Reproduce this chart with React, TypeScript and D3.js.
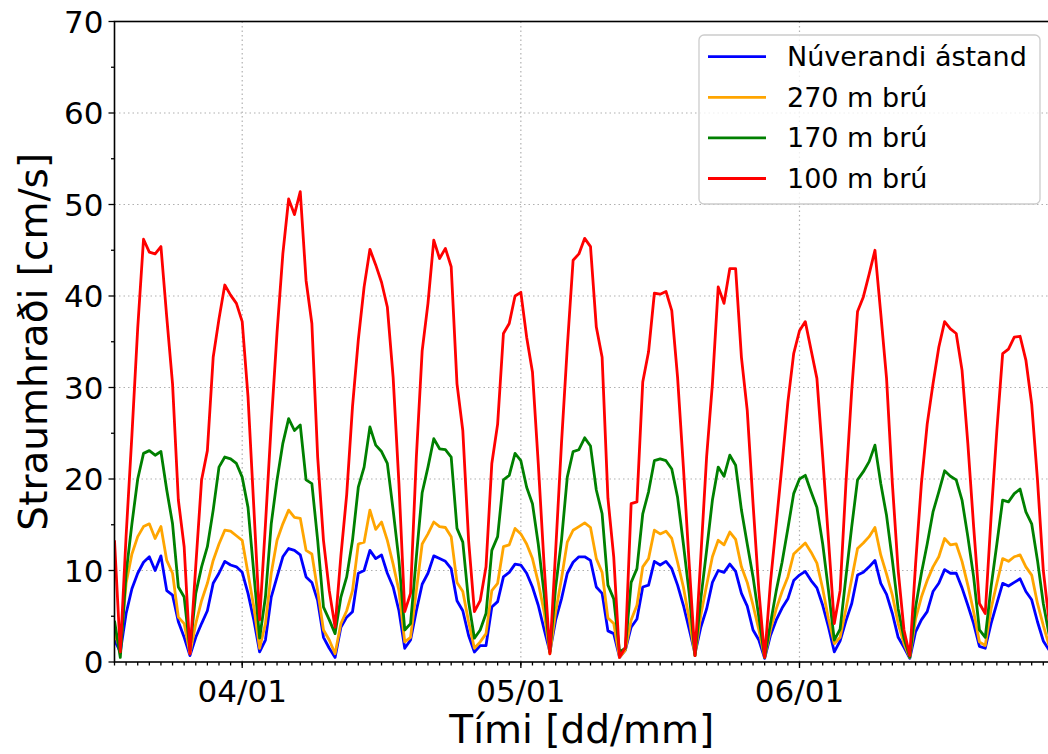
import React from "react";
import * as d3 from "d3";

// Sample times: half-hourly from 03/01 13:00
const START = new Date(2019, 0, 3, 13, 0);
const STEP_MIN = 30;
const END = new Date(2019, 0, 6, 21, 30);

const seriesNames = ["Núverandi ástand", "270 m brú", "170 m brú", "100 m brú"];
const seriesColors = ["#0000ff", "#ffa500", "#008000", "#ff0000"];

const blue = [
  2.4, 1.1, 5.3, 8.0, 9.7, 10.9, 11.5, 10.0, 11.6, 7.8, 7.3, 4.4, 2.7,
  0.7, 2.7, 4.2, 5.6, 8.6, 9.7, 11.0, 10.6, 10.4, 9.8, 7.5, 4.6, 1.1,
  2.4, 7.1, 9.3, 11.5, 12.4, 12.2, 11.7, 9.3, 8.7, 6.7, 2.7, 1.5, 0.5,
  3.8, 4.9, 5.5, 9.7, 10.0, 12.2, 11.3, 11.7, 9.7, 8.2, 5.6, 1.5, 2.4,
  5.6, 8.5, 9.7, 11.6, 11.3, 11.0, 10.2, 6.7, 5.6, 2.9, 1.1, 1.8, 1.8,
  6.0, 6.6, 9.3, 9.8, 10.7, 10.6, 9.7, 8.2, 6.2, 3.6, 1.1, 4.6, 6.9,
  9.7, 10.9, 11.5, 11.5, 11.1, 8.2, 7.5, 3.4, 3.1, 0.5, 1.3, 3.8, 4.7,
  8.2, 8.4, 11.0, 10.6, 11.0, 10.2, 8.4, 6.2, 3.6, 0.9, 3.8, 5.8, 8.7,
  10.0, 9.8, 10.7, 9.9, 7.5, 6.1, 3.5, 2.4, 0.4, 2.9, 4.6, 5.9, 6.9,
  8.9, 9.5, 9.9, 8.9, 8.1, 6.2, 3.8, 1.1, 2.3, 4.5, 6.4, 9.5, 9.8,
  10.4, 11.1, 8.6, 7.4, 5.3, 2.7, 1.6, 0.4, 3.3, 4.6, 5.5, 7.7, 8.6,
  10.1, 9.7, 9.7, 8.1, 6.2, 4.2, 1.7, 1.5, 4.2, 6.4, 8.6, 8.3, 8.7,
  9.1, 7.7, 6.8, 4.4, 2.3, 1.3,
];

const orange = [
  3.2, 1.3, 8.6, 11.8, 13.7, 14.8, 15.1, 13.5, 14.8, 11.1, 9.7, 4.9, 4.2,
  0.9, 4.2, 6.7, 8.6, 11.1, 12.9, 14.4, 14.3, 13.8, 13.3, 9.7, 6.0, 1.5,
  4.2, 9.7, 13.3, 15.1, 16.6, 15.8, 15.7, 12.2, 11.8, 7.8, 3.5, 2.4, 0.9,
  4.2, 5.6, 7.8, 12.9, 13.1, 16.6, 14.5, 15.3, 13.3, 10.7, 7.8, 2.2, 2.7,
  7.8, 12.9, 14.0, 15.3, 14.8, 14.7, 13.7, 8.7, 7.7, 4.4, 1.5, 2.2, 3.1,
  7.8, 8.6, 12.6, 12.8, 14.6, 14.0, 12.9, 11.3, 8.7, 5.5, 0.9, 5.5, 9.1,
  13.1, 14.4, 14.8, 15.2, 14.7, 11.3, 9.8, 4.8, 4.2, 0.5, 1.3, 4.6, 6.2,
  10.4, 11.3, 14.4, 14.0, 14.3, 13.5, 10.9, 8.2, 4.7, 0.7, 5.1, 8.4, 11.5,
  13.3, 12.8, 14.2, 13.4, 10.4, 8.7, 6.2, 3.5, 0.5, 3.5, 5.8, 7.7, 9.3,
  11.8, 12.4, 13.0, 12.0, 10.8, 8.0, 4.7, 2.0, 2.7, 5.8, 9.1, 12.4, 13.0,
  13.7, 14.7, 11.7, 9.6, 7.3, 4.2, 2.0, 0.5, 4.7, 7.1, 8.9, 10.4, 11.5,
  13.5, 12.8, 12.9, 11.0, 8.4, 5.5, 2.2, 1.8, 5.8, 8.6, 11.3, 11.0, 11.5,
  11.7, 10.4, 9.5, 6.4, 4.0, 1.8,
];

const green = [
  4.5, 0.5, 9.7, 15.1, 20.0, 22.8, 23.1, 22.6, 23.0, 18.8, 15.1, 8.2, 7.1,
  1.3, 7.5, 10.4, 12.6, 16.6, 21.3, 22.4, 22.2, 21.7, 20.2, 16.9, 9.7, 2.6,
  7.1, 15.1, 19.9, 23.9, 26.6, 25.3, 25.9, 19.9, 19.5, 13.3, 6.0, 4.6, 3.1,
  7.1, 9.3, 13.3, 19.1, 21.3, 25.7, 23.7, 23.0, 21.7, 16.6, 11.1, 3.5, 4.2,
  11.5, 18.5, 21.3, 24.4, 23.3, 23.2, 22.4, 14.6, 13.1, 6.6, 2.6, 3.5, 5.3,
  12.2, 13.7, 19.9, 20.4, 22.8, 22.0, 19.1, 17.3, 12.9, 7.5, 1.1, 8.2, 13.3,
  20.2, 23.0, 23.2, 24.5, 23.6, 18.8, 16.2, 8.4, 6.9, 1.1, 1.5, 8.7, 10.2,
  16.2, 18.6, 22.0, 22.2, 22.0, 21.1, 18.0, 12.9, 7.5, 0.7, 6.9, 12.2, 17.7,
  21.3, 20.3, 22.6, 21.5, 16.6, 12.9, 9.3, 4.9, 0.5, 4.2, 7.8, 10.9, 14.6,
  18.4, 20.0, 20.4, 18.6, 16.9, 12.9, 7.8, 2.4, 3.6, 9.3, 14.8, 19.9, 20.8,
  21.9, 23.7, 19.5, 16.0, 11.1, 5.8, 2.6, 0.5, 6.0, 9.7, 12.9, 16.4, 18.6,
  20.9, 20.3, 19.9, 17.7, 13.7, 9.3, 3.5, 2.7, 8.2, 12.9, 17.7, 17.5, 18.4,
  18.9, 16.4, 15.1, 11.1, 6.4, 3.0,
];

const red = [
  13.3, 1.1, 13.8, 24.8, 36.5, 46.2, 44.8, 44.6, 45.4, 37.7, 30.4, 17.7, 12.6,
  0.9, 10.5, 19.9, 23.1, 33.3, 37.5, 41.2, 40.1, 39.2, 37.2, 29.0, 16.9, 4.6,
  15.0, 26.0, 36.0, 44.6, 50.6, 48.9, 51.4, 41.7, 37.0, 22.4, 13.3, 7.8, 3.8,
  11.6, 18.3, 27.9, 35.2, 41.0, 45.1, 43.4, 41.5, 38.8, 31.1, 19.5, 5.5, 7.5,
  22.4, 34.0, 39.2, 46.1, 44.1, 45.2, 43.2, 30.4, 25.3, 13.3, 5.5, 6.7, 10.4,
  21.7, 26.0, 35.9, 37.0, 40.0, 40.4, 35.5, 31.7, 21.7, 10.7, 0.9, 12.2, 23.9,
  34.4, 43.9, 44.6, 46.3, 45.4, 36.6, 33.3, 17.9, 11.5, 0.5, 1.6, 17.3, 17.5,
  30.6, 33.9, 40.3, 40.2, 40.5, 38.4, 31.1, 21.3, 10.7, 0.7, 11.5, 22.4, 30.4,
  41.0, 39.2, 43.0, 43.0, 33.3, 27.5, 17.3, 7.8, 0.5, 8.7, 15.1, 21.6, 28.4,
  33.7, 36.2, 37.2, 34.1, 31.0, 22.4, 13.3, 4.2, 7.8, 19.5, 29.7, 38.3, 39.9,
  42.4, 45.0, 38.1, 31.0, 19.5, 10.0, 3.5, 0.7, 10.7, 19.5, 26.0, 30.4, 34.4,
  37.2, 36.4, 35.9, 31.9, 23.9, 14.8, 6.4, 5.3, 15.8, 25.3, 33.7, 34.2, 35.5,
  35.6, 33.0, 28.2, 19.9, 10.0, 4.5,
];

const yMajorTicks = [0, 10, 20, 30, 40, 50, 60, 70];
const xLabel = "Tími [dd/mm]";
const yLabel = "Straumhraði [cm/s]";

const W = 1048;
const H = 754;
const L = 114.5;
const T = 21.5;
const B = 662;
const R = 1049.1;
const FONT = "DejaVu Sans, sans-serif";

export default function App() {
  const allSeries = [blue, orange, green, red];
  const x = d3.scaleTime().domain([START, END]).range([L, R]);
  const y = d3.scaleLinear().domain([0, 70]).range([B, T]);
  const timeOf = (i: number) => new Date(START.getTime() + i * STEP_MIN * 60000);
  const line = d3
    .line<number>()
    .x((_, i) => x(timeOf(i)))
    .y((d) => y(d));

  const dayTicks = d3.timeDay.range(START, END);
  const hourTicks = d3.timeHour.range(START, new Date(END.getTime() + 1));
  const fmt = d3.timeFormat("%d/%m");
  const yMinor = d3.range(5, 70, 10);

  return (
    <svg width={W} height={H} style={{ display: "block", position: "absolute", left: 0, top: 0 }} fontFamily={FONT}>
      <rect x={0} y={0} width={W} height={H} fill="#fff" />
      <defs>
        <clipPath id="plot">
          <rect x={L} y={T} width={R - L} height={B - T} />
        </clipPath>
      </defs>
      {/* grid */}
      <g stroke="#b0b0b0" strokeWidth={1.2} strokeDasharray="1.5,3">
        {yMajorTicks.slice(1, -1).map((v) => (
          <line key={"gy" + v} x1={L} x2={R} y1={y(v)} y2={y(v)} />
        ))}
        {dayTicks.map((d) => (
          <line key={"gx" + d.getTime()} x1={x(d)} x2={x(d)} y1={T} y2={B} />
        ))}
      </g>
      {/* series */}
      <g clipPath="url(#plot)" fill="none" strokeWidth={2.8} strokeLinejoin="round">
        {allSeries.map((s, i) => (
          <path key={i} d={line(s) || ""} stroke={seriesColors[i]} />
        ))}
      </g>
      {/* spines */}
      <rect x={L} y={T} width={R - L} height={B - T} fill="none" stroke="#000" strokeWidth={1.6} />
      {/* ticks */}
      <g stroke="#000" strokeWidth={1.3}>
        {yMajorTicks.map((v) => (
          <line key={"yt" + v} x1={L - 6} x2={L} y1={y(v)} y2={y(v)} />
        ))}
        {yMinor.map((v) => (
          <line key={"ym" + v} x1={L - 3.5} x2={L} y1={y(v)} y2={y(v)} />
        ))}
        {hourTicks.map((d) => (
          <line key={"xm" + d.getTime()} x1={x(d)} x2={x(d)} y1={B} y2={B + 3.5} />
        ))}
        {dayTicks.map((d) => (
          <line key={"xt" + d.getTime()} x1={x(d)} x2={x(d)} y1={B} y2={B + 6} />
        ))}
      </g>
      <g fontSize={31} fill="#000">
        {yMajorTicks.map((v) => (
          <text key={"yl" + v} x={L - 11} y={y(v)} textAnchor="end" dominantBaseline="central">
            {v}
          </text>
        ))}
        {dayTicks.map((d) => (
          <text key={"xl" + d.getTime()} x={x(d)} y={B + 40} textAnchor="middle">
            {fmt(d)}
          </text>
        ))}
      </g>
      <text x={(L + R) / 2} y={743} fontSize={39} textAnchor="middle">
        {xLabel}
      </text>
      <text transform={`translate(47,${(T + B) / 2}) rotate(-90)`} fontSize={39} textAnchor="middle">
        {yLabel}
      </text>
      {/* legend */}
      <g>
        <rect x={699} y={35} width={341} height={169} rx={5} fill="#fff" fillOpacity={0.8} stroke="#cccccc" strokeWidth={1.3} />
        {seriesNames.map((n, i) => (
          <g key={n} transform={`translate(0,${56.7 + i * 40.6})`}>
            <line x1={708} x2={766} y1={0} y2={0} stroke={seriesColors[i]} strokeWidth={2.8} />
            <text x={787} y={0} fontSize={27} dominantBaseline="central">
              {n}
            </text>
          </g>
        ))}
      </g>
    </svg>
  );
}
